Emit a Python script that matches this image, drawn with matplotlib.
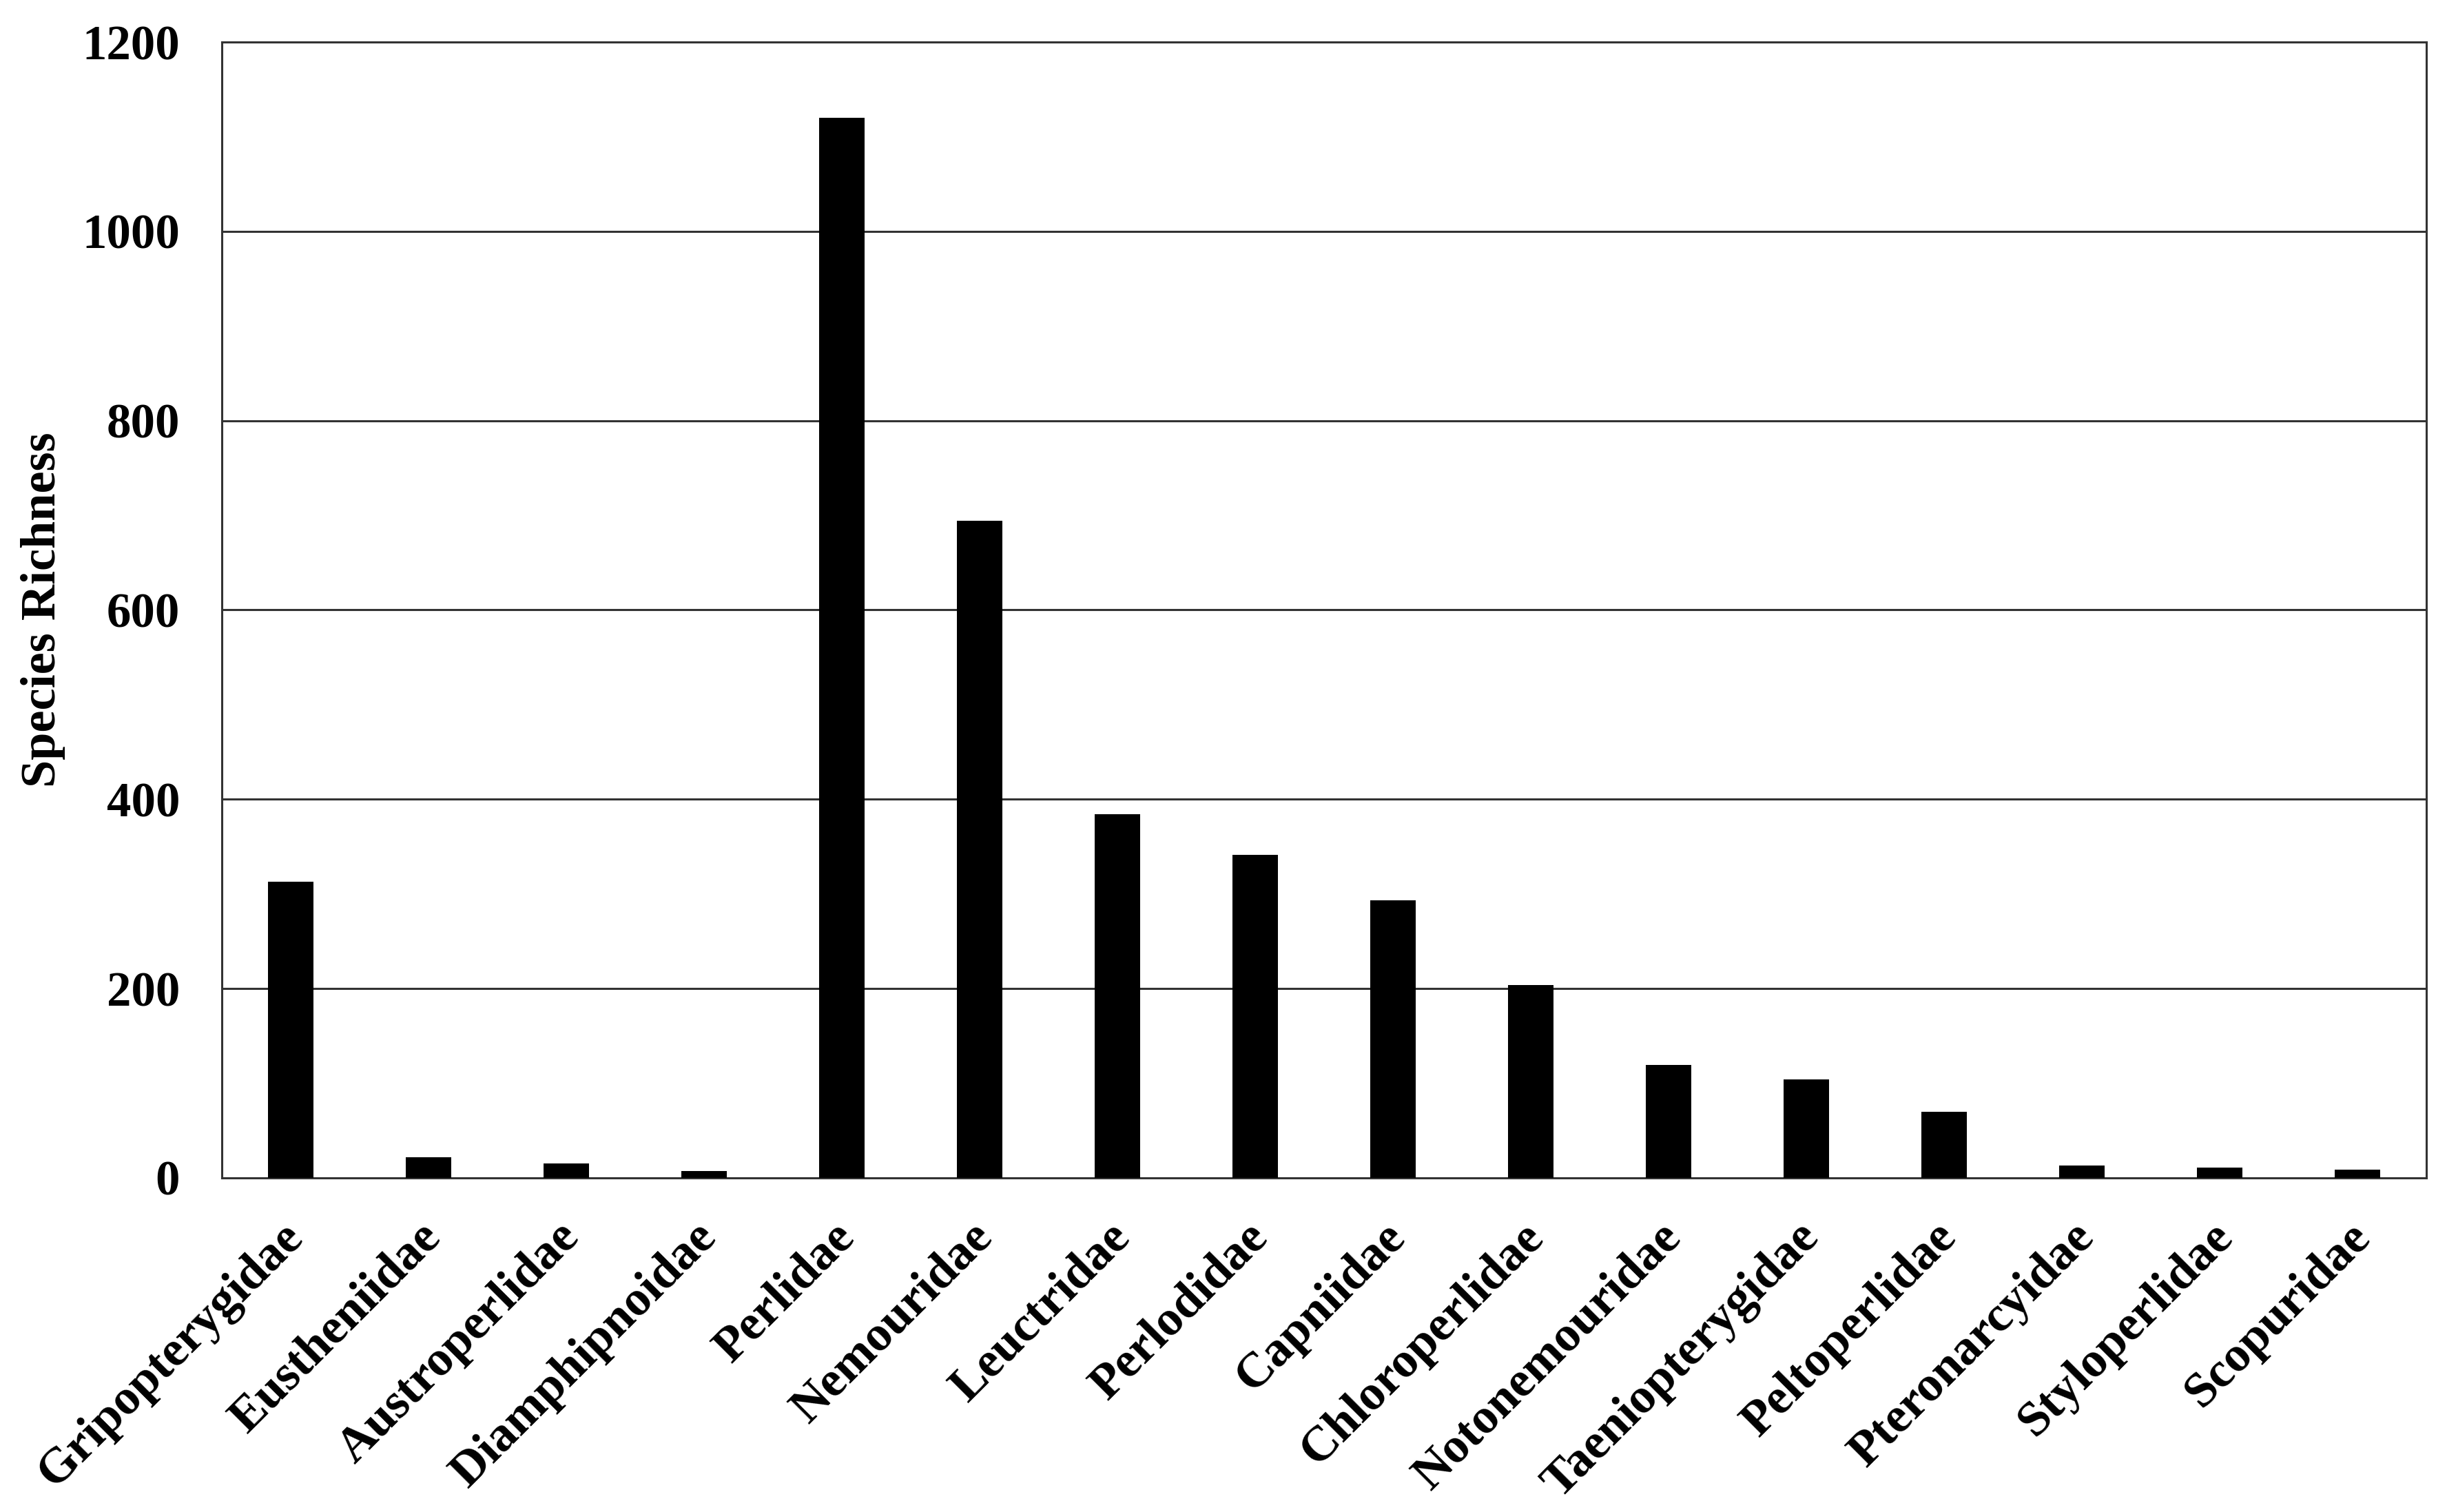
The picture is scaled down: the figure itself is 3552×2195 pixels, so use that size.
import numpy as np
import matplotlib
matplotlib.use("Agg")
import matplotlib.pyplot as plt
import matplotlib.transforms as mtransforms

families = ["Gripopterygidae", "Eustheniidae", "Austroperlidae", "Diamphipnoidae",
            "Perlidae", "Nemouridae", "Leuctridae", "Perlodidae", "Capniidae",
            "Chloroperlidae", "Notonemouridae", "Taeniopterygidae", "Peltoperlidae",
            "Pteronarcyidae", "Styloperlidae", "Scopuridae"]
richness = [313, 22, 15, 7, 1120, 694, 384, 341, 293, 204, 119, 104, 70, 13, 11, 9]
yticks = [0, 200, 400, 600, 800, 1000, 1200]

plt.rcParams['font.family'] = ['Liberation Serif', 'DejaVu Serif']
plt.rcParams['font.weight'] = 'bold'

fig = plt.figure(figsize=(35.52, 21.95), dpi=100)
ax = fig.add_axes([0.0907, 0.2210, 0.9009, 0.7512])

x = np.arange(len(families))
ax.bar(x, richness, width=0.33, color='black', zorder=3)

ax.set_xlim(-0.5, len(families) - 0.5)
ax.set_ylim(0, 1200)
ax.set_yticks(yticks)
ax.set_yticklabels([str(t) for t in yticks], fontsize=51, fontweight='bold')
ax.set_xticks(x)
ax.set_xticklabels(families, rotation=45, ha='right', va='top',
                   rotation_mode='anchor', fontsize=52, fontweight='bold')
ax.tick_params(axis='both', length=0)
ax.tick_params(axis='y', pad=44)
ax.tick_params(axis='x', pad=38)

# nudge the slanted labels a bit to the left
shift = mtransforms.ScaledTranslation(-0.15, 0, fig.dpi_scale_trans)
for lab in ax.get_xticklabels():
    lab.set_transform(lab.get_transform() + shift)

ax.yaxis.grid(True, color='#333333', linewidth=2.2, zorder=0)
ax.set_axisbelow(True)
for s in ax.spines.values():
    s.set_color('#333333')
    s.set_linewidth(2.2)

ax.set_ylabel("Species Richness", fontsize=52, fontweight='bold')
ax.yaxis.set_label_coords(-0.071, 0.5)

fig.savefig("out.png", dpi=100)
